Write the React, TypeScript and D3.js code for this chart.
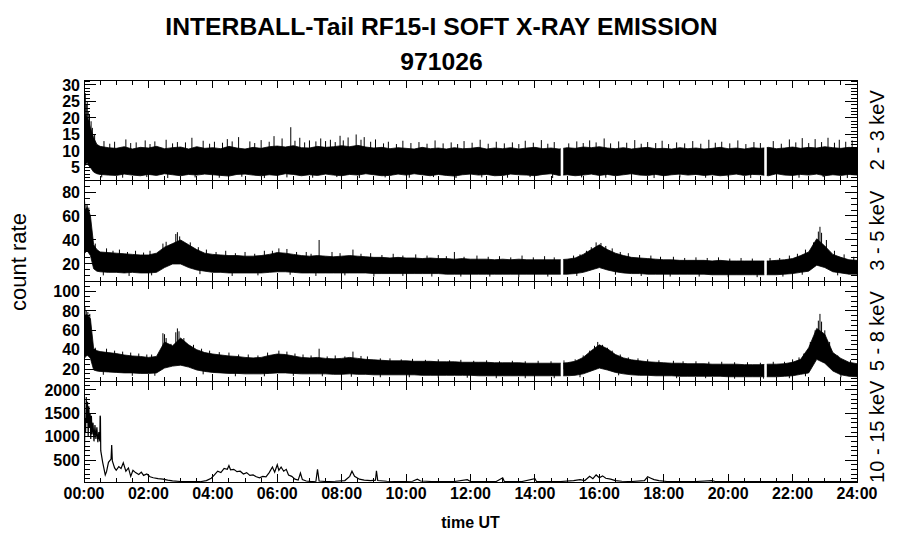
import React from 'react';
import * as d3 from 'd3';

// ---------- DATA ----------
const bandHours = [
  0, 0.05, 0.1, 0.15, 0.2, 0.3, 0.4, 0.5, 0.75,
  1, 1.25, 1.5, 1.75, 2, 2.25, 2.5, 2.75, 3, 3.25, 3.5, 3.75,
  4, 4.25, 4.5, 4.75, 5, 5.25, 5.5, 5.75, 6, 6.25, 6.5, 6.75,
  7, 7.25, 7.5, 7.75, 8, 8.25, 8.5, 8.75, 9, 9.25, 9.5, 9.75,
  10, 10.25, 10.5, 10.75, 11, 11.25, 11.5, 11.75, 12, 12.25, 12.5, 12.75,
  13, 13.25, 13.5, 13.75, 14, 14.25, 14.5, 14.75, 15, 15.25, 15.5, 15.75,
  16, 16.25, 16.5, 16.75, 17, 17.25, 17.5, 17.75, 18, 18.25, 18.5, 18.75,
  19, 19.25, 19.5, 19.75, 20, 20.25, 20.5, 20.75, 21, 21.25, 21.5, 21.75,
  22, 22.25, 22.5, 22.75, 23, 23.25, 23.5, 23.75, 24,
];

// 2 - 3 keV envelope
const soft23Lo = [
  5, 6, 6.5, 5.5, 5, 3.6, 3.1, 2.9, 2.7,
  2.6, 3.0, 2.7, 2.5, 2.9, 2.6, 3.1, 2.8, 2.5, 2.9, 2.7, 3.0,
  2.8, 2.6, 2.4, 2.9, 3.0, 2.7, 2.5, 2.8, 2.6, 3.1, 2.9, 2.5,
  2.8, 2.6, 3.0, 2.7, 2.5, 2.9, 2.7, 3.1, 2.8, 2.5, 2.6, 3.0,
  2.7, 3.1, 2.8, 2.5, 2.9, 2.6, 2.4, 2.8, 3.0, 2.7, 2.9, 2.5,
  2.6, 3.0, 2.8, 2.7, 2.5, 2.9, 3.1, 2.6, 2.8, 2.5, 2.7, 3.0,
  2.6, 2.9, 2.5, 2.8, 3.1, 2.7, 2.6, 2.9, 2.5, 2.8, 3.0, 2.7,
  2.9, 2.6, 2.8, 2.5, 2.7, 3.0, 2.6, 2.9, 2.8, 2.5, 3.1, 2.7,
  2.6, 2.9, 2.7, 3.0, 2.5, 2.8, 2.6, 2.9, 2.7,
];
const soft23Hi = [
  16, 21, 20, 19, 17, 14, 12, 11.4, 11.0,
  10.8, 11.3, 10.6, 11.1, 10.9, 11.4, 10.7, 11.0, 11.2, 10.6, 11.3, 10.8,
  11.0, 10.7, 11.4, 10.9, 10.6, 11.1, 10.8, 11.3, 11.5, 11.2, 11.6, 11.0,
  10.9, 11.4, 11.1, 11.3, 11.6, 11.3, 11.7, 11.2, 10.9, 11.1, 10.7, 11.0,
  10.8, 10.6, 11.1, 10.7, 10.9, 10.6, 11.0, 10.7, 10.8, 11.1, 10.6, 10.9,
  10.7, 11.0, 10.6, 10.9, 11.1, 10.7, 10.9, 10.6, 11.0, 10.8, 11.2, 11.0,
  11.3, 10.9, 10.7, 11.0, 10.6, 10.9, 11.1, 10.7, 10.8, 10.6, 11.0, 10.7,
  10.9, 10.6, 10.8, 11.1, 10.7, 10.9, 10.6, 11.0, 10.8, 11.1, 10.7, 10.9,
  11.2, 10.8, 11.1, 10.9, 11.3, 11.0, 10.8, 11.1, 10.9,
];

// 3 - 5 keV envelope
const soft35Lo = [
  28, 30, 31, 29, 27, 16, 14, 13.5, 13,
  13, 12.5, 13, 12.5, 12.5, 13, 17, 20, 20, 17, 15, 14,
  13, 13, 12.5, 12.5, 12.5, 12.5, 12.5, 13, 13.5, 13.5, 13, 12.5,
  12.5, 12.5, 12.5, 12.5, 12.5, 12.5, 12.5, 12.5, 12, 12, 12, 12,
  12, 12, 12, 12, 12, 11.5, 11.5, 11.5, 11.5, 11.5, 11.5, 11.5,
  11.5, 11.5, 11.5, 11.5, 11.5, 11.5, 11.5, 11.5, 11.5, 12, 13, 15,
  17, 15, 13.5, 12.5, 12, 12, 11.5, 11.5, 11.5, 11.5, 11.5, 11.5,
  11.5, 11.5, 11, 11, 11, 11, 11, 11, 11, 11, 11, 11.5,
  12, 13, 14, 19, 17, 13.5, 12.5, 11.5, 11.5,
];
const soft35Hi = [
  62, 66, 67, 64, 60, 36, 32, 30, 29.5,
  29, 28.5, 28, 27.5, 27.5, 29, 34, 37, 40, 36, 32, 29,
  28, 27.5, 27, 27, 26.5, 26.5, 27, 28, 29.5, 29, 28, 27,
  26.5, 27, 26.5, 26, 26.5, 27, 26.5, 26, 25.5, 25.5, 25, 25.5,
  25, 25, 24.5, 25, 24.5, 24.5, 24, 24.5, 24, 24, 24, 23.5,
  24, 23.5, 24, 23.5, 23.5, 23.5, 23.5, 23.5, 24, 25, 28, 32,
  36, 32, 29, 27, 25.5, 25, 24.5, 24, 23.5, 23.5, 23, 23,
  23, 23, 22.5, 23, 22.5, 22.5, 22.5, 22.5, 22.5, 22.5, 23, 23.5,
  24.5, 27, 30, 41, 35, 28, 25.5, 23.5, 23,
];

// 5 - 8 keV envelope
const soft58Lo = [
  30, 33, 34, 33, 31, 19, 18, 17.5, 17,
  16.5, 16, 16, 15.5, 15.5, 16, 21, 23, 24, 22, 19, 17.5,
  16.5, 16, 15.5, 15.5, 15, 15, 15, 15.5, 16, 16, 15.5, 15,
  15, 15, 15, 14.5, 14.5, 15, 14.5, 14.5, 14, 14, 14, 14,
  14, 14, 13.5, 13.5, 13.5, 13.5, 13.5, 13.5, 13.5, 13, 13, 13,
  13, 13, 13, 13, 13, 13, 13, 13, 13, 13.5, 15, 18,
  21, 19, 16.5, 15, 14, 13.5, 13.5, 13, 13, 13, 12.5, 12.5,
  12.5, 12.5, 12.5, 12.5, 12, 12, 12, 12, 12, 12, 12, 12.5,
  13, 14.5, 16, 30, 26, 18, 14, 12.5, 12,
];
const soft58Hi = [
  72, 76, 76, 74, 72, 41, 39, 38, 37,
  36, 34.5, 33.5, 33, 32, 33, 48, 44, 52, 45, 40, 37,
  35.5, 34.5, 33.5, 33, 32, 31.5, 32, 34, 35.5, 35, 33.5, 32,
  31.5, 32, 31, 30.5, 31, 32, 31, 30, 29.5, 29, 28.5, 28.5,
  28.5, 28, 28, 28, 27.5, 27.5, 27.5, 27, 27, 27, 27, 26.5,
  26.5, 26.5, 26.5, 26, 26, 26, 26, 26, 26.5, 28, 32, 39,
  45, 41, 35, 31.5, 29.5, 28.5, 27.5, 27, 26.5, 26, 26, 25.5,
  25.5, 25.5, 25, 25, 25, 25, 24.5, 24.5, 24.5, 25, 25, 25.5,
  27, 30, 42, 62, 56, 37, 31, 27, 25.5,
];

// isolated upward spikes above the dense band: [hour, count rate]
const soft23Spikes = [
  [0.02, 26], [0.04, 27.5], [0.07, 24], [0.1, 25], [0.13, 22], [0.17, 21], [0.22, 19], [0.26, 17], [0.33, 15],
  [0.62, 13], [0.95, 12.8], [1.3, 13.5], [1.62, 12.6], [1.9, 13.2], [2.2, 12.9], [2.55, 13.4], [2.9, 12.7],
  [3.35, 14], [3.7, 13.1], [4.05, 12.8], [4.45, 13.6], [4.8, 14.2], [5.15, 12.9], [5.5, 13.3], [5.9, 14.5],
  [6.15, 13.8], [6.42, 17.2], [6.7, 14], [7.0, 13.2], [7.35, 13.8], [7.65, 13.4], [7.95, 14.6], [8.2, 14.1],
  [8.45, 15], [8.7, 14.2], [9.05, 13.5], [9.45, 12.8], [9.9, 13.1], [10.4, 12.7], [10.9, 13.2], [11.4, 12.6],
  [11.8, 13], [12.3, 13.4], [12.8, 12.8], [13.3, 12.6], [13.7, 13.1], [14.2, 13.3], [14.6, 12.7], [15.3, 12.9],
  [15.7, 13.2], [16.15, 13.8], [16.6, 12.9], [17.1, 13.3], [17.5, 12.7], [17.95, 13.1], [18.4, 12.6], [18.9, 13],
  [19.4, 13.4], [19.8, 12.8], [20.3, 13.2], [20.8, 12.7], [21.4, 13], [21.9, 13.5], [22.3, 13.9], [22.7, 13.6],
  [23.1, 14], [23.45, 13.4], [23.85, 13.2],
  [0.8, 12.2], [1.45, 12.4], [2.05, 12.1], [2.75, 12.3], [3.15, 12.6], [3.9, 12.2], [4.3, 12.5], [4.6, 12.9],
  [5.3, 12.4], [5.75, 12.8], [6.55, 13.1], [6.85, 12.6], [7.2, 12.9], [7.5, 13], [7.8, 12.7], [8.05, 13.2],
  [8.6, 13.4], [8.9, 12.8], [9.3, 12.3], [9.7, 12.1], [10.15, 12.4], [10.65, 12.2], [11.15, 12.3], [11.6, 12.1],
  [12.05, 12.5], [12.55, 12.2], [13.05, 12.3], [13.5, 12.1], [13.95, 12.5], [14.4, 12.2], [15.05, 12.3],
  [15.5, 12.4], [15.9, 12.6], [16.35, 12.3], [16.85, 12.5], [17.3, 12.2], [17.75, 12.4], [18.15, 12.1],
  [18.65, 12.3], [19.15, 12.2], [19.6, 12.5], [20.05, 12.3], [20.55, 12.1], [21.0, 12.4], [21.65, 12.2],
  [22.1, 12.6], [22.5, 12.4], [22.9, 12.7], [23.3, 12.5], [23.65, 12.8],
];
const soft35Spikes = [
  [0.02, 72], [0.06, 70], [0.1, 69], [0.15, 67], [0.24, 42], [0.35, 37], [0.7, 33], [1.1, 32], [1.6, 31],
  [2.05, 31], [2.45, 37], [2.55, 38.5], [2.85, 45], [2.9, 46.5], [2.97, 43], [3.3, 38], [3.8, 32], [4.4, 31],
  [5.0, 30], [5.6, 31], [6.05, 33], [6.3, 32.5], [6.9, 30], [7.3, 40], [7.7, 30], [8.35, 32], [8.9, 29],
  [9.6, 28.5], [10.3, 28], [11.0, 27.5], [11.5, 30], [12.2, 27], [12.9, 26.5], [13.6, 27], [14.3, 26.5],
  [15.2, 27], [15.6, 31], [15.9, 38], [16.05, 37.5], [16.4, 33], [16.9, 29], [17.6, 27], [18.3, 26],
  [19.0, 25.5], [19.7, 25.5], [20.4, 25], [21.3, 25], [21.9, 27], [22.4, 32], [22.65, 38], [22.8, 47],
  [22.85, 51], [22.9, 46], [23.05, 40], [23.3, 31], [23.6, 28], [23.9, 26],
  [0.9, 31], [1.35, 30], [1.85, 29.5], [3.55, 34], [4.1, 30], [4.7, 29], [5.3, 28.5], [5.85, 31], [6.6, 30],
  [7.05, 28.5], [7.95, 29], [8.6, 28.5], [9.25, 27.5], [9.9, 27], [10.65, 27], [11.25, 26.5], [11.8, 26],
  [12.55, 26], [13.25, 25.5], [13.95, 25.5], [14.6, 25.5], [15.4, 28], [15.75, 34], [16.2, 35], [16.65, 30],
  [17.25, 27.5], [17.9, 26], [18.65, 25], [19.35, 25], [20.05, 24.5], [20.75, 24.5], [21.6, 25], [22.15, 28.5],
];
const soft58Spikes = [
  [0.03, 84], [0.07, 80], [0.12, 79], [0.18, 77], [0.24, 46], [0.35, 42], [0.7, 41], [1.2, 38], [1.7, 36],
  [2.1, 35], [2.45, 57], [2.5, 56], [2.55, 52], [2.7, 46], [2.85, 58], [2.9, 62], [2.95, 59], [3.1, 52],
  [3.4, 45], [3.9, 39], [4.5, 37], [5.1, 35], [5.7, 37], [6.05, 39], [6.3, 38], [6.8, 35], [7.3, 41],
  [7.8, 34], [8.35, 38], [8.8, 33], [9.5, 31], [10.2, 30.5], [11.0, 30], [11.7, 29.5], [12.5, 29],
  [13.3, 28.5], [14.1, 28.5], [14.9, 29], [15.5, 34], [15.85, 44], [15.95, 48], [16.1, 45], [16.4, 39],
  [16.9, 32], [17.5, 30], [18.3, 28.5], [19.0, 28], [19.8, 27.5], [20.6, 27], [21.4, 27.5], [22.0, 30],
  [22.35, 36], [22.55, 48], [22.7, 60], [22.8, 70], [22.85, 77], [22.9, 69], [23.0, 60], [23.15, 48],
  [23.4, 34], [23.8, 29],
  [0.95, 39], [1.45, 37], [1.95, 35], [3.65, 41], [4.2, 37.5], [4.8, 35], [5.4, 34], [6.55, 36], [7.05, 34],
  [7.55, 33], [8.1, 33], [8.6, 33.5], [9.2, 31], [9.85, 30], [10.6, 29.5], [11.35, 29], [12.1, 28.5],
  [12.9, 28], [13.7, 28], [14.5, 28], [15.25, 30], [15.7, 39], [16.25, 42], [16.65, 35], [17.2, 31],
  [17.85, 29], [18.6, 28], [19.4, 27.5], [20.2, 27], [21.0, 26.5], [21.75, 27.5], [22.2, 32],
];

// downward spikes below the dense band: [hour, count rate]
const soft23Dips = [
  [0.55, 2.0], [1.2, 1.9], [1.95, 2.1], [2.6, 1.8], [3.45, 2.0], [4.2, 1.9], [4.9, 2.2], [5.6, 1.8], [6.3, 2.0],
  [7.1, 1.9], [7.85, 2.1], [8.55, 1.8], [9.35, 2.0], [10.1, 1.9], [10.85, 2.1], [11.55, 1.8], [12.35, 2.0],
  [13.15, 1.9], [13.85, 2.1], [14.55, 1.8], [15.45, 2.0], [16.2, 1.9], [17.0, 2.1], [17.7, 1.8], [18.5, 2.0],
  [19.3, 1.9], [20.0, 2.1], [20.7, 1.8], [21.5, 2.0], [22.2, 1.9], [22.95, 2.1], [23.7, 1.8],
];
const soft35Dips = [
  [0.6, 10.5], [1.4, 10], [2.1, 10.5], [3.6, 11.5], [4.6, 10], [5.4, 10.5], [6.4, 11], [7.2, 10], [8.1, 10.5],
  [9.0, 9.5], [9.9, 10], [10.8, 9.5], [11.7, 9.5], [12.6, 9.5], [13.5, 9], [14.4, 9.5], [15.3, 10], [16.5, 11],
  [17.3, 10], [18.2, 9.5], [19.1, 9.5], [20.0, 9], [20.9, 9], [21.7, 9.5], [22.3, 11], [23.4, 10.5],
];
const soft58Dips = [
  [0.6, 14], [1.5, 13], [2.2, 13], [3.7, 14.5], [4.7, 12.5], [5.6, 12.5], [6.5, 13], [7.4, 12.5], [8.3, 12],
  [9.2, 11.5], [10.1, 11.5], [11.0, 11], [11.9, 11], [12.8, 10.5], [13.7, 10.5], [14.6, 10.5], [15.4, 11.5],
  [16.6, 13.5], [17.5, 11], [18.4, 10.5], [19.3, 10.5], [20.2, 10], [21.1, 10], [21.9, 10.5], [22.4, 12.5],
  [23.5, 11.5],
];

// 10 - 15 keV trace: [hour, count rate]
const hard1015 = [
  [0, 1250], [0.01, 500], [0.03, 1400], [0.05, 1100], [0.07, 1850], [0.09, 1300], [0.11, 1750], [0.13, 1000],
  [0.15, 1650], [0.17, 1200], [0.19, 1500], [0.21, 950], [0.23, 1450], [0.25, 1050], [0.28, 1300], [0.31, 900],
  [0.34, 1250], [0.37, 950], [0.4, 1200], [0.43, 880], [0.46, 1100], [0.49, 900], [0.5, 1450], [0.51, 1420],
  [0.52, 700], [0.58, 450], [0.66, 180], [0.7, 250], [0.76, 450], [0.84, 520], [0.86, 820], [0.88, 480],
  [0.95, 330], [1.0, 280], [1.08, 360], [1.15, 320], [1.22, 440], [1.3, 260], [1.38, 330], [1.45, 150],
  [1.52, 280], [1.6, 230], [1.7, 190], [1.78, 240], [1.85, 170], [1.95, 200], [2.05, 140], [2.15, 120],
  [2.3, 100], [2.45, 90], [2.6, 70], [2.75, 55], [3.0, 40], [3.3, 35], [3.6, 35], [3.8, 60], [3.95, 110],
  [4.05, 180], [4.15, 260], [4.25, 230], [4.35, 320], [4.45, 300], [4.5, 380], [4.55, 290], [4.65, 300],
  [4.75, 250], [4.85, 260], [4.95, 200], [5.05, 230], [5.15, 170], [5.25, 180], [5.35, 140], [5.45, 120],
  [5.55, 150], [5.65, 140], [5.75, 230], [5.85, 350], [5.92, 240], [6.0, 400], [6.05, 280], [6.12, 350],
  [6.2, 260], [6.28, 300], [6.35, 180], [6.45, 150], [6.55, 90], [6.65, 70], [6.72, 220], [6.78, 80],
  [6.9, 50], [7.05, 40], [7.2, 45], [7.25, 300], [7.3, 50], [7.5, 40], [7.8, 45], [8.1, 60], [8.25, 150],
  [8.32, 260], [8.4, 150], [8.55, 90], [8.7, 70], [8.9, 60], [9.05, 70], [9.08, 270], [9.12, 60], [9.4, 45],
  [9.8, 40], [10.2, 45], [10.35, 90], [10.45, 50], [10.8, 40], [11.5, 40], [11.9, 80], [12.0, 40], [12.8, 40],
  [13.0, 120], [13.05, 40], [13.6, 40], [14.0, 100], [14.05, 40], [14.8, 40], [15.2, 60], [15.4, 80],
  [15.55, 60], [15.7, 150], [15.8, 100], [15.9, 180], [16.0, 120], [16.1, 160], [16.2, 110], [16.35, 90],
  [16.5, 60], [16.7, 45], [17.0, 40], [17.4, 60], [17.5, 140], [17.6, 110], [17.7, 80], [17.85, 60],
  [18.1, 40], [19.0, 40], [19.5, 60], [19.6, 40], [20.0, 40], [21.0, 40], [22.0, 40], [23.0, 40], [24.0, 40],
];

// data gaps (hours)
const gapStarts = [14.8, 21.12];
const gapEnds = [14.88, 21.2];

const bandLabels = ['2 - 3 keV', '3 - 5 keV', '5 - 8 keV', '10 - 15 keV'];
const yTicks23 = [5, 10, 15, 20, 25, 30];
const yTicks35 = [20, 40, 60, 80];
const yTicks58 = [20, 40, 60, 80, 100];
const yTicks1015 = [500, 1000, 1500, 2000];
const xTickHours = [0, 2, 4, 6, 8, 10, 12, 14, 16, 18, 20, 22, 24];
const xTickLabels = ['00:00', '02:00', '04:00', '06:00', '08:00', '10:00', '12:00', '14:00', '16:00', '18:00', '20:00', '22:00', '24:00'];

// ---------- LAYOUT ----------
const W = 900, H = 548;
const X0 = 84, X1 = 857;
const panelTops = [80, 180.5, 281, 381.5];
const panelBottoms = [180.5, 281, 381.5, 482];
const FONT = "'Liberation Sans', Arial, Helvetica, sans-serif";

export default function App() {
  const x = d3.scaleLinear().domain([0, 24]).range([X0, X1]);

  const panels = [
    { lo: soft23Lo, hi: soft23Hi, spikes: soft23Spikes, dips: soft23Dips, domain: [1.06, 31.5], ticks: yTicks23, minor: 1 },
    { lo: soft35Lo, hi: soft35Hi, spikes: soft35Spikes, dips: soft35Dips, domain: [5.8, 89.6], ticks: yTicks35, minor: 5 },
    { lo: soft58Lo, hi: soft58Hi, spikes: soft58Spikes, dips: soft58Dips, domain: [7.1, 111], ticks: yTicks58, minor: 5 },
    { lo: null, hi: null, spikes: null, dips: null, domain: [29, 2182], ticks: yTicks1015, minor: 100 },
  ];

  const xMinor = d3.range(0, 24.001, 0.5).filter((h) => Math.abs(h / 2 - Math.round(h / 2)) > 1e-6);

  const segStarts = [0, ...gapEnds];
  const segEnds = [...gapStarts, 24];

  const axisEls: JSX.Element[] = [];
  const textEls: JSX.Element[] = [];
  const content: JSX.Element[] = [];
  const defs: JSX.Element[] = [];

  panels.forEach((p, i) => {
    const top = panelTops[i];
    const bot = panelBottoms[i];
    const y = d3.scaleLinear().domain(p.domain).range([bot, top]);

    defs.push(
      <clipPath id={`clip${i}`} key={`clip${i}`}>
        {i < 3
          ? segStarts.map((s, k) => (
              <rect key={k} x={x(s)} y={top} width={x(segEnds[k]) - x(s)} height={bot - top} />
            ))
          : <rect x={X0} y={top} width={X1 - X0} height={bot - top} />}
      </clipPath>
    );

    if (p.lo && p.hi && p.spikes && p.dips) {
      const lo = p.lo, hi = p.hi;
      const idx = bandHours.map((_, k) => k);
      const area = d3.area<number>()
        .x((k) => x(bandHours[k]))
        .y0((k) => y(lo[k]))
        .y1((k) => y(hi[k]));
      const midAt = d3.scaleLinear().domain(bandHours).range(bandHours.map((_, k) => (lo[k] + hi[k]) / 2));
      content.push(
        <g key={`band${i}`} clipPath={`url(#clip${i})`}>
          <path d={area(idx) || ''} fill="#000" stroke="#000" strokeWidth={0.8} />
          {p.spikes.map(([h, v], k) => (
            <line key={`s${k}`} x1={x(h)} x2={x(h)} y1={y(midAt(h))} y2={y(v)} stroke="#000" strokeWidth={1} />
          ))}
          {p.dips.map(([h, v], k) => (
            <line key={`d${k}`} x1={x(h)} x2={x(h)} y1={y(midAt(h))} y2={y(v)} stroke="#000" strokeWidth={1} />
          ))}
        </g>
      );
    } else {
      const line = d3.line<number[]>().x((d) => x(d[0])).y((d) => y(d[1]));
      content.push(
        <g key={`line${i}`} clipPath={`url(#clip${i})`}>
          <path d={line(hard1015) || ''} fill="none" stroke="#000" strokeWidth={1.2} />
        </g>
      );
    }

    axisEls.push(
      <rect key={`frame${i}`} x={X0} y={top} width={X1 - X0} height={bot - top} fill="none" stroke="#000" strokeWidth={1} />
    );
    xTickHours.forEach((h) => {
      axisEls.push(<line key={`xt${i}-${h}`} x1={x(h)} x2={x(h)} y1={top} y2={top + 8} stroke="#000" />);
      axisEls.push(<line key={`xb${i}-${h}`} x1={x(h)} x2={x(h)} y1={bot} y2={bot - 8} stroke="#000" />);
    });
    xMinor.forEach((h) => {
      axisEls.push(<line key={`xmt${i}-${h}`} x1={x(h)} x2={x(h)} y1={top} y2={top + 4.5} stroke="#000" />);
      axisEls.push(<line key={`xmb${i}-${h}`} x1={x(h)} x2={x(h)} y1={bot} y2={bot - 4.5} stroke="#000" />);
    });
    const [d0, d1] = p.domain;
    const minors = d3.range(Math.ceil(d0 / p.minor) * p.minor, d1, p.minor)
      .filter((v) => !p.ticks.some((t) => Math.abs(t - v) < 1e-6));
    p.ticks.forEach((t) => {
      axisEls.push(<line key={`yl${i}-${t}`} x1={X0} x2={X0 + 12} y1={y(t)} y2={y(t)} stroke="#000" />);
      axisEls.push(<line key={`yr${i}-${t}`} x1={X1} x2={X1 - 12} y1={y(t)} y2={y(t)} stroke="#000" />);
      textEls.push(
        <text key={`ylab${i}-${t}`} x={80} y={y(t)} dy="0.36em" textAnchor="end" fontSize={16} fontWeight="bold" fontFamily={FONT}>
          {t}
        </text>
      );
    });
    minors.forEach((t) => {
      axisEls.push(<line key={`yml${i}-${t}`} x1={X0} x2={X0 + 6} y1={y(t)} y2={y(t)} stroke="#000" />);
      axisEls.push(<line key={`ymr${i}-${t}`} x1={X1} x2={X1 - 6} y1={y(t)} y2={y(t)} stroke="#000" />);
    });
    const cy = (top + bot) / 2;
    textEls.push(
      <text key={`rl${i}`} transform={`translate(884,${cy}) rotate(-90)`} textAnchor="middle" fontSize={20} fontFamily={FONT}>
        {bandLabels[i]}
      </text>
    );
  });

  return (
    <svg width={W} height={H} style={{ position: 'absolute', left: 0, top: 0, background: '#fff' }}>
      <rect x={0} y={0} width={W} height={H} fill="#fff" />
      <defs>{defs}</defs>
      <text x={441.5} y={35} textAnchor="middle" fontSize={24.7} fontWeight="bold" fontFamily={FONT}>
        INTERBALL-Tail RF15-I SOFT X-RAY EMISSION
      </text>
      <text x={441.5} y={70} textAnchor="middle" fontSize={24.7} fontWeight="bold" fontFamily={FONT}>
        971026
      </text>
      {content}
      <g shapeRendering="crispEdges">{axisEls}</g>
      {textEls}
      {xTickHours.map((h, k) => (
        <text key={`xl${k}`} x={x(h)} y={499} textAnchor="middle" fontSize={16} fontWeight="bold" fontFamily={FONT}>
          {xTickLabels[k]}
        </text>
      ))}
      <text x={470.5} y={528} textAnchor="middle" fontSize={16} fontWeight="bold" fontFamily={FONT}>
        time UT
      </text>
      <text transform="translate(25.5,262) rotate(-90)" textAnchor="middle" fontSize={22} fontFamily={FONT}>
        count rate
      </text>
    </svg>
  );
}
